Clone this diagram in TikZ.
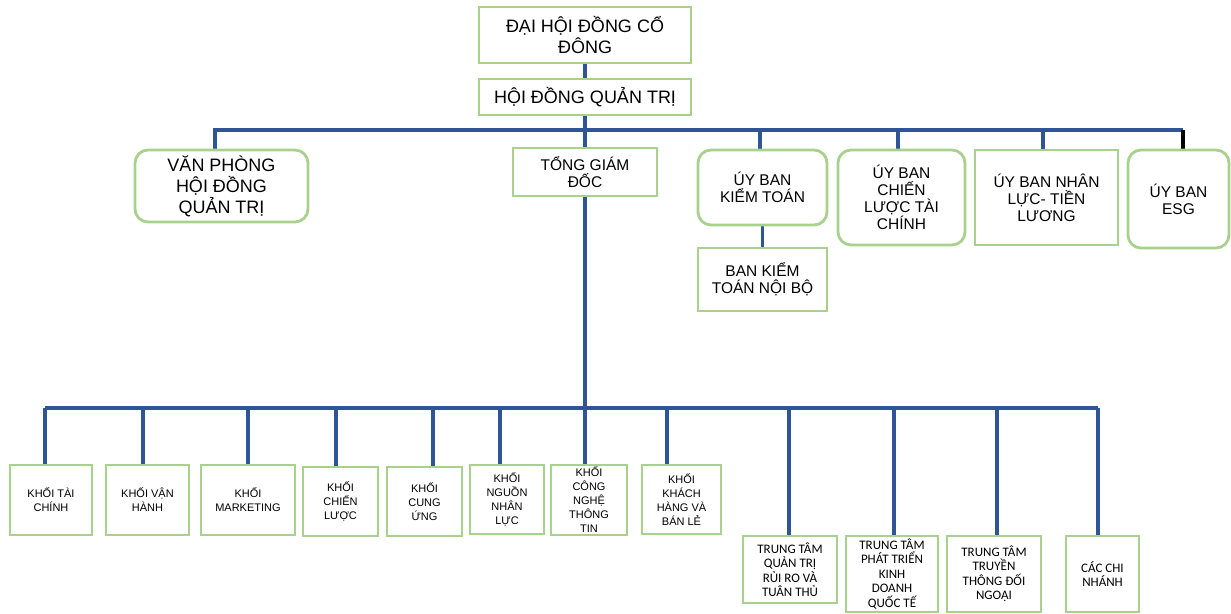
\documentclass[tikz,border=0pt]{standalone}
\usepackage{fontspec}
\setmainfont{Liberation Sans}
\newfontfamily\carlfont{Carlito}
\usetikzlibrary{backgrounds}
\definecolor{boxgreen}{HTML}{A9D18E}
\definecolor{linkblue}{HTML}{2F5597}
\begin{document}
\begin{tikzpicture}[x=1pt,y=-1pt,
  box/.style={draw=boxgreen, line width=2.8pt, fill=white, align=center, inner sep=0pt, text=black},
  rbox/.style={box, rounded corners=13pt},
  big/.style={font=\fontsize{18}{21}\selectfont},
  mid/.style={font=\fontsize{15.5}{17}\selectfont},
  small/.style={font=\fontsize{11}{14}\selectfont},
  tiny/.style={font=\carlfont\fontsize{13}{14.5}\selectfont},
  link/.style={draw=linkblue, line width=3.2pt},
  blink/.style={draw=black, line width=3.2pt}]
\useasboundingbox (0,0) rectangle (1231,613);

% top
\node[box, big, minimum width=212pt, minimum height=56pt] (dhdcd) at (585,35) {ĐẠI HỘI ĐỒNG CỔ\\ĐÔNG};
\node[box, big, minimum width=212pt, minimum height=36pt] (hdqt) at (585,97) {HỘI ĐỒNG QUẢN TRỊ};

% second row
\node[rbox, big, minimum width=173pt, minimum height=72pt] (vp) at (221.5,186) {VĂN PHÒNG\\HỘI ĐỒNG\\QUẢN TRỊ};
\node[box, mid, minimum width=144pt, minimum height=48pt] (tgd) at (585,172) {TỔNG GIÁM\\ĐỐC};
\node[rbox, mid, minimum width=129pt, minimum height=75pt] (ubkt) at (762.5,187.5) {ÚY BAN\\KIỂM TOÁN};
\node[box, mid, minimum width=129pt, minimum height=63pt] (bktnb) at (762.5,279.5) {BAN KIỂM\\TOÁN NỘI BỘ};
\node[rbox, mid, minimum width=127pt, minimum height=95pt] (ubcl) at (901.5,197.5) {ÚY BAN\\CHIẾN\\LƯỢC TÀI\\CHÍNH};
\node[box, mid, minimum width=143pt, minimum height=95pt] (ubnl) at (1046.5,197.5) {ÚY BAN NHÂN\\LỰC- TIỀN\\LƯƠNG};
\node[rbox, mid, minimum width=101pt, minimum height=98pt] (esg) at (1178.5,199) {ÚY BAN\\ESG};

% bottom row
\node[box, small, minimum width=82pt, minimum height=70pt] (ktc) at (51,500) {KHỐI TÀI\\CHÍNH};
\node[box, small, minimum width=83pt, minimum height=70pt] (kvh) at (147.5,500) {KHỐI VẬN\\HÀNH};
\node[box, small, minimum width=94pt, minimum height=70pt] (kmk) at (248,500) {KHỐI\\MARKETING};
\node[box, small, minimum width=75pt, minimum height=69pt] (kcl) at (340.5,501.5) {KHỐI\\CHIẾN\\LƯỢC};
\node[box, small, minimum width=75pt, minimum height=69pt] (kcu) at (424.5,501.5) {KHỐI\\CUNG\\ỨNG};
\node[box, small, minimum width=74pt, minimum height=69pt] (knl) at (507,499.5) {KHỐI\\NGUỒN\\NHÂN\\LỰC};
\node[box, small, minimum width=76pt, minimum height=70pt] (cntt) at (589,500) {KHỐI\\CÔNG\\NGHỆ\\THÔNG\\TIN};
\node[box, small, minimum width=79pt, minimum height=69pt] (kkh) at (681.5,499.5) {KHỐI\\KHÁCH\\HÀNG VÀ\\BÁN LẺ};
\node[box, tiny, minimum width=94pt, minimum height=67pt] (ttqt) at (790,569.5) {TRUNG TÂM\\QUẢN TRỊ\\RỦI RO VÀ\\TUÂN THỦ};
\node[box, tiny, minimum width=92pt, minimum height=76pt] (ttpt) at (892,574) {TRUNG TÂM\\PHÁT TRIỂN\\KINH\\DOANH\\QUỐC TẾ};
\node[box, tiny, minimum width=94pt, minimum height=76pt] (tttt) at (994,574) {TRUNG TÂM\\TRUYỀN\\THÔNG ĐỐI\\NGOẠI};
\node[box, tiny, minimum width=73pt, minimum height=76pt] (ccn) at (1102.5,574) {CÁC CHI\\NHÁNH};

\begin{scope}[on background layer]
  % upper connectors
  \draw[link] (dhdcd.south) -- (hdqt.north);
  \coordinate (b1L) at (215,130);
  \coordinate (b1R) at (1183,130);
  \coordinate (b1K) at (760,130);
  \coordinate (b1C) at (898,130);
  \coordinate (b1N) at (1043,130);
  \draw[link] (hdqt.south) -- (tgd.north);
  \draw[link] (b1L |- vp.north) -- (b1L) -- (b1R);
  \draw[link] (b1K) -- (b1K |- ubkt.north);
  \draw[link] (b1C) -- (b1C |- ubcl.north);
  \draw[link] (b1N) -- (b1N |- ubnl.north);
  \draw[blink] (b1R) -- (b1R |- esg.north);
  \draw[link] (ubkt.south) -- (bktnb.north);
  % lower connectors
  \coordinate (b2) at (585,408);
  \coordinate (b2L) at (45,408);
  \coordinate (b2R) at (1098,408);
  \draw[link] (tgd.south) -- (b2);
  \draw[link] (b2L) -- (b2R);
  \foreach \x/\n in {45/ktc, 143/kvh, 248/kmk, 336/kcl, 433/kcu, 500/knl, 585/cntt, 667/kkh, 789/ttqt, 894/ttpt, 997/tttt, 1098/ccn}{
    \coordinate (t) at (\x,408);
    \draw[link] (t) -- (t |- \n.north);
  }
\end{scope}
\end{tikzpicture}
\end{document}
